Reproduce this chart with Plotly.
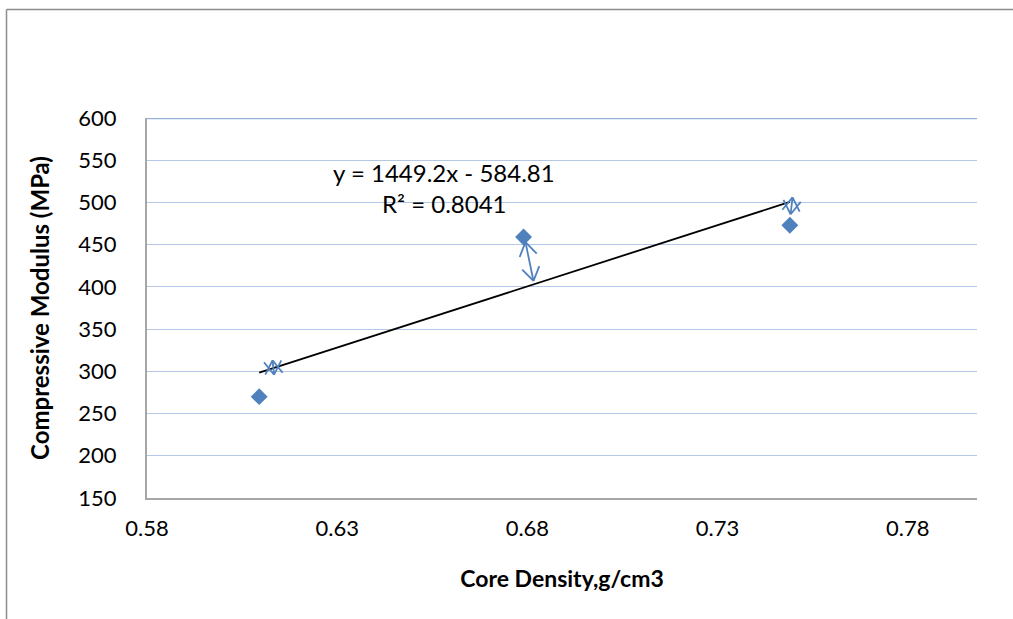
import math
import plotly.graph_objects as go

# ---- data ----
density = [0.6095, 0.6790, 0.7490]          # Core Density, g/cm3
modulus = [270, 459, 473]                   # Compressive Modulus, MPa
slope = 1449.2
intercept = -584.81
r_squared = 0.8041

# error-bar style arrows (start / end in data units)
arrow_x0 = [0.6130, 0.6795, 0.7497]
arrow_y0 = [313, 453, 506]
arrow_x1 = [0.6134, 0.6816, 0.7492]
arrow_y1 = [296, 407, 486]

x_ticks = [0.58, 0.63, 0.68, 0.73, 0.78]
y_ticks = [150, 200, 250, 300, 350, 400, 450, 500, 550, 600]

# ---- layout geometry ----
W, H = 1013, 619
ML, MR, MT = 147, 36, 118
PW, PH = 830, 380
MB = H - MT - PH
XR = [0.58, 0.7982]
YR = [150, 600]
sx = PW / (XR[1] - XR[0])
sy = PH / (YR[1] - YR[0])

BLUE = "#4F81BD"
FONT = "Lato"

fig = go.Figure()

# trendline
tx = [min(density), max(density)]
ty = [slope * v + intercept for v in tx]
fig.add_trace(go.Scatter(x=tx, y=ty, mode="lines",
                         line=dict(color="black", width=1.8),
                         hoverinfo="skip", showlegend=False))

# arrows (double headed, open V heads) built from arrow arrays
ax_, ay_ = [], []
arm = 16.0
ang = math.radians(33)
for x0, y0, x1, y1 in zip(arrow_x0, arrow_y0, arrow_x1, arrow_y1):
    ax_ += [x0, x1, None]
    ay_ += [y0, y1, None]
    for (tx0, ty0, tx1, ty1) in [(x1, y1, x0, y0), (x0, y0, x1, y1)]:
        dxp = (tx1 - tx0) * sx
        dyp = (ty1 - ty0) * sy
        L = math.hypot(dxp, dyp) or 1.0
        ux, uy = -dxp / L, -dyp / L
        for s in (1, -1):
            c, sn = math.cos(s * ang), math.sin(s * ang)
            rx = ux * c - uy * sn
            ry = ux * sn + uy * c
            ax_ += [tx1, tx1 + rx * arm / sx, None]
            ay_ += [ty1, ty1 + ry * arm / sy, None]
fig.add_trace(go.Scatter(x=ax_, y=ay_, mode="lines",
                         line=dict(color=BLUE, width=1.8),
                         hoverinfo="skip", showlegend=False))

# data markers
fig.add_trace(go.Scatter(x=density, y=modulus, mode="markers",
                         marker=dict(symbol="diamond", size=13, color=BLUE,
                                     line=dict(width=0)),
                         showlegend=False))

fx0 = (6.5 - ML) / PW
fx1 = (W + 40 - ML) / PW
fy_top = (PH + MT - 9.5) / PH
fy_bot = -(MB + 20) / PH

fig.update_layout(
    width=W, height=H,
    margin=dict(l=ML, r=MR, t=MT, b=MB),
    paper_bgcolor="white", plot_bgcolor="white",
    font=dict(family=FONT, size=22, color="black"),
    xaxis=dict(range=XR, tickvals=x_ticks,
               ticktext=[f"{v:.2f}" for v in x_ticks],
               showgrid=False, zeroline=False,
               showline=True, linecolor="#A6A6A6", linewidth=2,
               ticks="", ticklabelstandoff=10,
               title=dict(text="<b>Core Density,g/cm3</b>",
                          font=dict(size=23), standoff=30)),
    yaxis=dict(range=YR, tickvals=y_ticks,
               showgrid=True, gridcolor="#B4C7E7", gridwidth=1.2,
               zeroline=False,
               showline=True, linecolor="#A6A6A6", linewidth=2,
               ticks="", ticklabelstandoff=24,
               title=dict(text="<b>Compressive Modulus (MPa)</b>",
                          font=dict(size=24), standoff=22)),
    shapes=[
        # emphasised top gridline
        dict(type="line", xref="paper", yref="y", x0=0, x1=1, y0=600, y1=600,
             line=dict(color="#95B3D7", width=2.5), layer="below"),
        # chart-area frame: top and left edges (others fall outside the picture)
        dict(type="line", xref="paper", yref="paper",
             x0=fx0, x1=fx1, y0=fy_top, y1=fy_top,
             line=dict(color="#8C8C8C", width=1.5)),
        dict(type="line", xref="paper", yref="paper",
             x0=fx0, x1=fx0, y0=fy_top, y1=fy_bot,
             line=dict(color="#8C8C8C", width=1.5)),
    ],
    annotations=[
        dict(text=f"y = {slope}x - {abs(intercept)}", xref="paper", yref="paper",
             x=(444 - ML) / PW, y=(PH + MT - 172) / PH, showarrow=False,
             font=dict(size=24), xanchor="center", yanchor="middle"),
        dict(text=f"R² = {r_squared}", xref="paper", yref="paper",
             x=(444 - ML) / PW, y=(PH + MT - 203) / PH, showarrow=False,
             font=dict(size=24), xanchor="center", yanchor="middle"),
    ],
)

fig.write_html("out.html")
